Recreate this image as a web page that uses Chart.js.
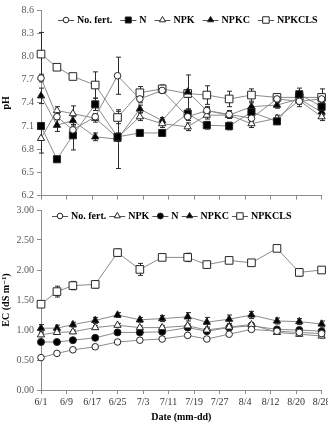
<!DOCTYPE html>
<html><head><meta charset="utf-8">
<script src="https://cdn.jsdelivr.net/npm/chart.js@4.4.1/dist/chart.umd.min.js"></script>
<style>
html,body{margin:0;padding:0;background:#fff;overflow:hidden;}
#w1{position:absolute;left:0;top:0;width:328px;height:202px;}
#w2{position:absolute;left:0;top:202px;width:328px;height:221px;}
</style></head><body>
<div id="w1"><canvas id="c1"></canvas></div>
<div id="w2"><canvas id="c2"></canvas></div>
<script>
// ---------- data ----------
const days = [0, 5, 10, 17, 24, 31, 38, 46, 52, 59, 66, 74, 81, 88];
const xTickLabels = ['6/1','6/9','6/17','6/25','7/3','7/11','7/19','7/27','8/4','8/12','8/20','8/28'];

const phNoFert    = [7.72, 7.22, 7.05, 7.22, 7.75, 7.45, 7.56, 7.22, 7.30, 7.25, 7.20, 7.45, 7.42, 7.45];
const phNoFertErr = [0.05, 0.04, 0.05, 0.04, 0.24, 0.05, 0.04, 0.05, 0.04, 0.05, 0.04, 0.05, 0.04, 0.05];
const phN         = [7.10, 6.67, 6.98, 7.38, 6.96, 7.01, 7.01, 7.26, 7.11, 7.10, 7.28, 7.16, 7.51, 7.35];
const phNErr      = [0.04, 0.02, 0.19, 0.08, 0.05, 0.02, 0.02, 0.06, 0.05, 0.05, 0.05, 0.04, 0.08, 0.05];
const phNPK       = [6.94, 7.30, 7.26, 7.20, 6.95, 7.22, 7.13, 7.09, 7.24, 7.24, 7.13, 7.20, 7.43, 7.22];
const phNPKErr    = [0.19, 0.05, 0.10, 0.05, 0.05, 0.05, 0.05, 0.05, 0.05, 0.04, 0.05, 0.04, 0.04, 0.05];
const phNPKC      = [7.49, 7.11, 7.17, 6.96, 6.93, 7.32, 7.17, 7.54, 7.30, 7.24, 7.35, 7.37, 7.45, 7.28];
const phNPKCErr   = [0.10, 0.08, 0.05, 0.05, 0.38, 0.05, 0.04, 0.22, 0.05, 0.04, 0.05, 0.04, 0.10, 0.04];
const phNPKCLS    = [8.03, 7.86, 7.74, 7.63, 7.21, 7.53, 7.58, 7.52, 7.50, 7.45, 7.50, 7.47, 7.47, 7.47];
const phNPKCLSErr = [0.28, 0.03, 0.03, 0.17, 0.08, 0.08, 0.05, 0.05, 0.12, 0.10, 0.08, 0.04, 0.06, 0.11];

const ecNoFert    = [0.54, 0.61, 0.67, 0.72, 0.80, 0.83, 0.85, 0.91, 0.85, 0.93, 1.01, 0.98, 0.96, 0.94];
const ecNoFertErr = [0.02, 0.02, 0.02, 0.02, 0.02, 0.02, 0.02, 0.02, 0.02, 0.02, 0.02, 0.02, 0.02, 0.02];
const ecNPK       = [0.92, 0.96, 0.97, 1.04, 1.08, 1.04, 1.04, 1.07, 1.00, 1.05, 1.09, 0.96, 0.93, 0.90];
const ecNPKErr    = [0.03, 0.03, 0.03, 0.03, 0.03, 0.03, 0.03, 0.03, 0.03, 0.03, 0.03, 0.03, 0.03, 0.03];
const ecN         = [0.80, 0.80, 0.83, 0.87, 0.96, 0.96, 0.97, 1.04, 0.98, 1.04, 1.07, 1.01, 1.00, 0.98];
const ecNErr      = [0.04, 0.03, 0.03, 0.03, 0.03, 0.03, 0.03, 0.03, 0.03, 0.03, 0.03, 0.03, 0.03, 0.03];
const ecNPKC      = [1.03, 1.03, 1.09, 1.16, 1.25, 1.17, 1.19, 1.22, 1.13, 1.18, 1.25, 1.15, 1.14, 1.10];
const ecNPKCErr   = [0.06, 0.05, 0.04, 0.05, 0.04, 0.04, 0.05, 0.07, 0.08, 0.07, 0.06, 0.05, 0.05, 0.05];
const ecNPKCLS    = [1.43, 1.64, 1.74, 1.76, 2.29, 2.01, 2.21, 2.21, 2.09, 2.16, 2.12, 2.36, 1.96, 2.00];
const ecNPKCLSErr = [0.03, 0.09, 0.07, 0.06, 0.06, 0.10, 0.04, 0.07, 0.03, 0.03, 0.03, 0.03, 0.06, 0.03];

// ---------- helpers ----------
const SERIF = '"Liberation Serif", "DejaVu Serif", serif';
const LINE = '#8a8a8a', MK = '#262626', AXIS = '#8c8c8c', TICK = '#595959';

const styles = {
  'No. fert.': {pointStyle:'circle',   radius:3.3, fill:'#ffffff'},
  'N':         {pointStyle:'rect',     radius:5,   fill:'#000000'},
  'Nc':        {pointStyle:'circle',   radius:3.5, fill:'#000000'},
  'NPK':       {pointStyle:'triangle', radius:4.2, fill:'#ffffff'},
  'NPKC':      {pointStyle:'triangle', radius:4.2, fill:'#000000'},
  'NPKCLS':    {pointStyle:'rect',     radius:5.4, fill:'#ffffff'}
};

function ds(label, styleKey, vals, errs) {
  const s = styles[styleKey];
  return {
    label: label,
    data: days.map((d, i) => ({x: d, y: vals[i]})),
    err: errs,
    borderColor: LINE, borderWidth: 1,
    pointStyle: s.pointStyle, pointRadius: s.radius, pointHoverRadius: s.radius,
    pointBackgroundColor: s.fill, pointBorderColor: MK, pointBorderWidth: 1,
    tension: 0, clip: false
  };
}

const errorBars = {
  id: 'errorBars',
  beforeDatasetsDraw(chart) {
    const ctx = chart.ctx, xs = chart.scales.x, ys = chart.scales.y;
    ctx.save();
    ctx.strokeStyle = '#2a2a2a'; ctx.lineWidth = 1;
    chart.data.datasets.forEach(d => {
      d.data.forEach((p, i) => {
        const e = d.err[i];
        if (!e) return;
        const x = Math.round(xs.getPixelForValue(p.x)) + 0.5;
        const y1 = ys.getPixelForValue(p.y + e), y2 = ys.getPixelForValue(p.y - e);
        ctx.beginPath();
        ctx.moveTo(x, y1); ctx.lineTo(x, y2);
        ctx.moveTo(x - 2.5, y1); ctx.lineTo(x + 2.5, y1);
        ctx.moveTo(x - 2.5, y2); ctx.lineTo(x + 2.5, y2);
        ctx.stroke();
      });
    });
    ctx.restore();
  }
};

const lineLegend = {
  id: 'lineLegend',
  afterDraw(chart, args, opts) {
    const ctx = chart.ctx;
    ctx.save();
    ctx.font = 'bold 10px ' + SERIF;
    ctx.textBaseline = 'middle';
    let x = opts.x;
    const y = opts.y;
    chart.data.datasets.forEach(d => {
      const L = 16;
      ctx.strokeStyle = '#555'; ctx.lineWidth = 1;
      ctx.beginPath(); ctx.moveTo(x, y + 0.5); ctx.lineTo(x + L, y + 0.5); ctx.stroke();
      ctx.fillStyle = d.pointBackgroundColor; ctx.strokeStyle = MK; ctx.lineWidth = 1;
      Chart.helpers.drawPoint(ctx, {pointStyle: d.pointStyle, radius: d.pointRadius * 0.85, rotation: 0, borderWidth: 1}, x + L / 2, y);
      ctx.fillStyle = '#000';
      ctx.fillText(d.label, x + L + 3, y);
      x += L + 3 + ctx.measureText(d.label).width + opts.gap;
    });
    ctx.restore();
  }
};

function makeOptions(yMin, yMax, yStep, dec, yTitle, showX, legendX, legendY, gap) {
  return {
    responsive: true, maintainAspectRatio: false, animation: false, devicePixelRatio: 1,
    layout: {padding: {top: showX ? 8 : 10, right: 6, left: 0, bottom: 0}},
    plugins: {legend: {display: false}, tooltip: {enabled: false},
              lineLegend: {x: legendX, y: legendY, gap: gap}},
    scales: {
      x: {
        type: 'linear', min: 0, max: 88,
        ticks: {stepSize: 8, autoSkip: false, maxRotation: 0, display: showX,
                color: '#333', font: {family: SERIF, size: 10}, padding: 2,
                callback: (v, i) => xTickLabels[i]},
        grid: {drawOnChartArea: false, drawTicks: true, tickLength: 4, color: AXIS},
        border: {color: AXIS},
        title: {display: showX, text: 'Date (mm-dd)', color: '#000',
                font: {family: SERIF, size: 10, weight: 'bold'}, padding: {top: 2, bottom: 0}},
        afterFit: s => { s.paddingLeft = 0; s.paddingRight = 0; s.height = showX ? 33 : 4; }
      },
      y: {
        min: yMin, max: yMax,
        ticks: {stepSize: yStep, color: TICK, font: {family: SERIF, size: 10}, padding: 3,
                callback: v => Number(v).toFixed(dec)},
        grid: {drawOnChartArea: false, drawTicks: true, tickLength: 4, color: AXIS},
        border: {color: AXIS},
        title: {display: true, text: yTitle, color: '#000',
                font: {family: SERIF, size: 10, weight: 'bold'}, padding: {top: 0, bottom: 0}},
        afterFit: s => { s.width = 41; s.paddingTop = 0; s.paddingBottom = 0; }
      }
    }
  };
}

new Chart(document.getElementById('c1'), {
  type: 'line',
  data: {datasets: [
    ds('No. fert.', 'No. fert.', phNoFert, phNoFertErr),
    ds('N', 'N', phN, phNErr),
    ds('NPK', 'NPK', phNPK, phNPKErr),
    ds('NPKC', 'NPKC', phNPKC, phNPKCErr),
    ds('NPKCLS', 'NPKCLS', phNPKCLS, phNPKCLSErr)
  ]},
  options: makeOptions(6.2, 8.6, 0.3, 1, 'pH', false, 58, 20, 8),
  plugins: [errorBars, lineLegend]
});

new Chart(document.getElementById('c2'), {
  type: 'line',
  data: {datasets: [
    ds('No. fert.', 'No. fert.', ecNoFert, ecNoFertErr),
    ds('NPK', 'NPK', ecNPK, ecNPKErr),
    ds('N', 'Nc', ecN, ecNErr),
    ds('NPKC', 'NPKC', ecNPKC, ecNPKCErr),
    ds('NPKCLS', 'NPKCLS', ecNPKCLS, ecNPKCLSErr)
  ]},
  options: makeOptions(0, 3, 0.5, 2, 'EC (dS m\u207B\u00B9)', true, 52, 14, 3),
  plugins: [errorBars, lineLegend]
});
</script>
</body></html>
